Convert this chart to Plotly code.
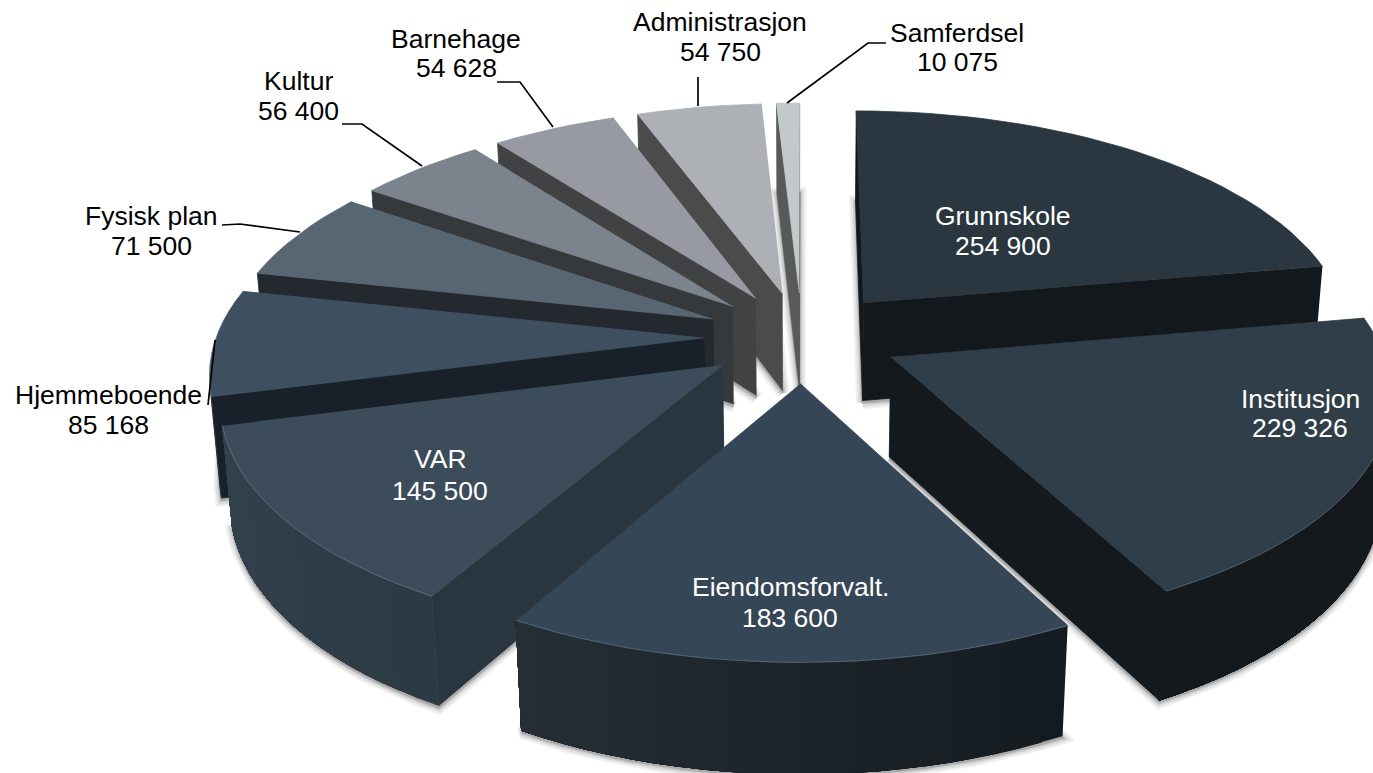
import numpy as np
import plotly.graph_objects as go

# budget per sector, clockwise from 12 o'clock
categories = ['Grunnskole', 'Institusjon', 'Eiendomsforvalt.', 'VAR', 'Hjemmeboende',
              'Fysisk plan', 'Kultur', 'Barnehage', 'Administrasjon', 'Samferdsel']
values = [254900, 229326, 183600, 145500, 85168, 71500, 56400, 54628, 54750, 10075]

top_colors = ['#2a3740', '#2f3e48', '#354656', '#3c4c5b', '#3e5060',
              '#586672', '#7b838c', '#979aa2', '#adb0b4', '#c3c8cb']
cut_colors = ['#12181c', '#13191d', '#1b242b', '#2a363f', '#18212a',
              '#23292f', '#35393c', '#404244', '#4a4c4b', '#575a59']
wall_start = ['#12181c', '#13191d', '#141b20', '#2c3a43', '#1d2830',
              '#23292f', '#35393c', '#404244', '#4a4c4b', '#575a59']
wall_end = ['#12181c', '#13191d', '#262f37', '#33434e', '#1d2830',
            '#23292f', '#35393c', '#404244', '#4a4c4b', '#575a59']
label_colors = ['white', 'white', 'white', 'white', 'black',
                'black', 'black', 'black', 'black', 'black']
label_x = [1003, 1300, 790, 440, 108, 151, 298, 456, 720, 957]
name_y = [216, 399, 587, 459, 395, 216, 81, 39, 22, 33]
value_y = [246, 428, 618, 491, 425, 246, 111, 68, 52, 62]

leaders = [
    [(886, 43), (868, 43), (787, 103)],
    [(698, 77), (698, 106)],
    [(497, 82), (520, 82), (553, 127)],
    [(342, 124), (362, 124), (422, 166)],
    [(222, 225), (240, 224), (300, 232)],
    [(208, 405), (215, 340)],
]

# view
W, H_PX = 1373, 773
CX, CY = 802, 337
SCALE = 488
DIST = 6.5
TILT = np.radians(27.7)
THICK = 0.233
EXPLODE = 0.2


def project(X, Y, Z):
    X, Y, Z = np.asarray(X, float), np.asarray(Y, float), np.asarray(Z, float)
    v = Y * np.sin(TILT) + Z * np.cos(TILT)
    w = Y * np.cos(TILT) - Z * np.sin(TILT)
    s = DIST / (DIST + w)
    return CX + SCALE * X * s, CY - SCALE * v * s


def mix(a, b, t):
    a = [int(a[i:i + 2], 16) for i in (1, 3, 5)]
    b = [int(b[i:i + 2], 16) for i in (1, 3, 5)]
    return 'rgb(%d,%d,%d)' % tuple(a[i] + (b[i] - a[i]) * t for i in range(3))


fig = go.Figure()


def facing(X, Y, Z):
    px, py = project(X, Y, Z)
    # screen y points down, so front faces come out with this sign
    return np.sum(px * np.roll(py, -1) - np.roll(px, -1) * py) < 0


def poly(X, Y, Z, color, cull=True):
    if cull and not facing(X, Y, Z):
        return
    px, py = project(X, Y, Z)
    fig.add_trace(go.Scatter(x=px, y=py, mode='lines', fill='toself', fillcolor=color,
                             line=dict(color=color, width=0.8), hoverinfo='skip', showlegend=False))


def wall(ex, ey, k0, k1):
    # quad strip from edge point k0 to k1 along the rim
    xs = np.r_[ex[k0:k1 + 1], ex[k0:k1 + 1][::-1]]
    ys = np.r_[ey[k0:k1 + 1], ey[k0:k1 + 1][::-1]]
    n = k1 - k0 + 1
    return xs, ys, np.r_[np.zeros(n), np.full(n, -THICK)]


total = sum(values)
edges = np.concatenate([[0], np.cumsum(values)]) / total * 360
mids = (edges[:-1] + edges[1:]) / 2
order = np.argsort(-np.cos(np.radians(mids)))


def outline(i):
    a0, a1 = np.radians(edges[i]), np.radians(edges[i + 1])
    mid = np.radians(mids[i])
    ax, ay = EXPLODE * np.sin(mid), EXPLODE * np.cos(mid)
    ang = np.linspace(a0, a1, max(3, int((edges[i + 1] - edges[i]) / 2.5) + 1))
    return ax, ay, ang, ax + np.sin(ang), ay + np.cos(ang)


# blurry shadow of the slice bottoms goes in first
for width, color in [(13, '#f1f1f1'), (9, '#e0e0e0'), (5, '#cacaca'), (2, '#aaaaaa')]:
    for i in order:
        ax, ay, ang, ex, ey = outline(i)
        sx, sy = project(np.r_[ax, ex, ax], np.r_[ay, ey, ay], np.full(len(ex) + 2, -THICK))
        fig.add_trace(go.Scatter(x=sx, y=sy + 2, mode='lines', fill='toself', fillcolor=color,
                                 line=dict(color=color, width=width), hoverinfo='skip', showlegend=False))

for i in order:
    ax, ay, ang, ex, ey = outline(i)

    # cut faces: apex to the start edge, and apex to the end edge
    poly([ax, ex[0], ex[0], ax], [ay, ey[0], ey[0], ay], [0, 0, -THICK, -THICK], cut_colors[i])
    poly([ex[-1], ax, ax, ex[-1]], [ey[-1], ay, ay, ey[-1]], [0, 0, -THICK, -THICK], cut_colors[i])

    # outer wall: each colour band runs on to the last visible point so no seams show
    seen = [k for k in range(len(ang) - 1) if facing(*wall(ex, ey, k, k + 1))]
    for k in seen:
        t = (k + 0.5) / (len(ang) - 1)
        xs, ys, zs = wall(ex, ey, k, seen[-1] + 1)
        poly(xs, ys, zs, mix(wall_start[i], wall_end[i], t), cull=False)

    # top of the slice
    poly(np.r_[ax, ex], np.r_[ay, ey], np.zeros(len(ex) + 1), top_colors[i], cull=False)

    # thin highlight along the front rim
    front = np.cos(ang) < 0.1
    if front.any():
        hx, hy = project(ex[front], ey[front], np.zeros(front.sum()))
        fig.add_trace(go.Scatter(x=hx, y=hy, mode='lines', line=dict(color='rgba(150,170,185,0.35)', width=1),
                                 hoverinfo='skip', showlegend=False))

for pts in leaders:
    fig.add_trace(go.Scatter(x=[p[0] for p in pts], y=[p[1] for p in pts], mode='lines',
                             line=dict(color='black', width=1.7), hoverinfo='skip', showlegend=False))

for name, val, lx, ny, vy, col in zip(categories, values, label_x, name_y, value_y, label_colors):
    for txt, ly in [(name, ny), (f'{val:,}'.replace(',', ' '), vy)]:
        fig.add_annotation(x=lx, y=ly, xref='x', yref='y', showarrow=False, align='center', text=txt,
                           font=dict(family='Liberation Sans', size=26.5, color=col))

fig.update_layout(width=W, height=H_PX, margin=dict(l=0, r=0, t=0, b=0),
                  paper_bgcolor='white', plot_bgcolor='white', showlegend=False,
                  xaxis=dict(range=[0, W], visible=False),
                  yaxis=dict(range=[H_PX, 0], visible=False))
fig.write_html("out.html", config={'displayModeBar': False}, post_script="document.body.style.margin='0';")
